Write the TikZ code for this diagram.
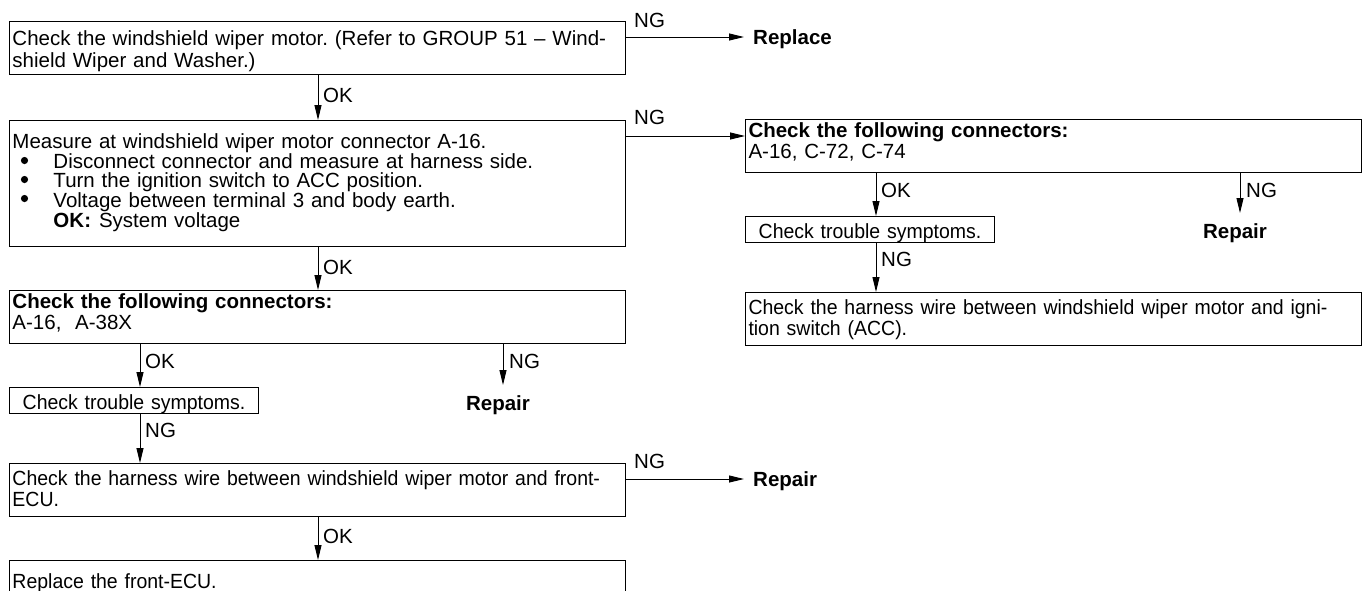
\documentclass[tikz,border=0pt]{standalone}
\usepackage{fontspec}
\setmainfont{Liberation Sans}
\newfontfamily\nfont{Liberation Sans}[FakeStretch=0.95]
\usetikzlibrary{arrows.meta}
\frenchspacing
\newcommand\bskip[1]{\fontsize{20.5}{#1}\selectfont}
\newcommand\tstr[1]{\rule{0pt}{#1pt}}
\newcommand\bstr[1]{\rule[-#1pt]{0pt}{#1pt}}
\tikzset{
  box/.style={draw, line width=1pt, anchor=north west, inner xsep=3pt, inner ysep=0pt, align=left},
  arr/.style={line width=0.9pt, -{Triangle[length=15pt,width=7pt]}},
  lbl/.style={anchor=west, inner sep=0pt, font=\bskip{22}},
  res/.style={inner sep=0pt, font=\bskip{22}\bfseries},
}
\begin{document}
\begin{tikzpicture}[x=1pt, y=-1pt]
\useasboundingbox (0,0) rectangle (1367,590);
\clip (0,0) rectangle (1367,590);
\fill[white] (0,0) rectangle (1367,590);

% x positions of vertical connectors
\coordinate (xa) at (318,0);
\coordinate (xl) at (140,0);
\coordinate (xr) at (876,0);

% left column
\node[box, text width=610pt, font=\bskip{22}] (A) at (9,21)
 {\tstr{24}\makebox[603pt][s]{Check the windshield wiper motor. (Refer to GROUP 51 – Wind-}\\shield Wiper and Washer.)\bstr{7}};
\node[box, text width=610pt, font=\bskip{19}] (B) at (9,120)
 {\tstr{27.5}Measure at windshield wiper motor connector A-16.\\
  \hspace*{41pt}Disconnect connector and measure at harness side.\\
  \hspace*{41pt}Turn the ignition switch to ACC position.\\
  \hspace*{41pt}Voltage between terminal 3 and body earth.\\
  \hspace*{41pt}\textbf{OK:}\hspace{8pt}System voltage\bstr{19.5}};
\foreach \yy in {160.5,179.5,198.5} \fill (24.5,\yy) circle (3.6pt);
\node[box, text width=610pt, font=\bskip{21}] (C) at (9,290)
 {\tstr{18}\makebox[338pt][s]{\textbf{Check the following connectors:}}\\A-16,\ \ A-38X\bstr{14}};
\node[box, text width=243pt, align=center, font=\nfont\bskip{22}] (D) at (9,387)
 {\tstr{21.5}Check trouble symptoms.\bstr{3.5}};
\node[box, text width=610pt, font=\nfont\bskip{21}] (E) at (9,463)
 {\tstr{22}Check the harness wire between windshield wiper motor and front-\\ECU.\bstr{10}};
\node[box, text width=610pt, font=\nfont\bskip{22}] (F) at (9,560)
 {\tstr{27.5}Replace the front-ECU.\bstr{20}};

% right column
\node[box, text width=610pt, font=\bskip{21}] (G) at (745,119)
 {\tstr{18}\makebox[338pt][s]{\textbf{Check the following connectors:}}\\A-16, C-72, C-74\bstr{14}};
\node[box, text width=243pt, align=center, font=\nfont\bskip{22}] (H) at (745,216)
 {\tstr{21.5}Check trouble symptoms.\bstr{3.5}};
\node[box, text width=610pt, font=\nfont\bskip{21}] (I) at (745,292)
 {\tstr{22}Check the harness wire between windshield wiper motor and igni-\\tion switch (ACC).\bstr{10}};

% result nodes
\node[res, anchor=base west] (Rpl) at (753,44.5) {Replace};
\node[res, anchor=base] (R1) at (498,410) {Repair};
\node[res, anchor=base] (R2) at (1235,238) {Repair};
\node[res, anchor=base west] (R3) at (753,486.5) {Repair};
\coordinate (t1) at (503,385);
\coordinate (t2) at (1240,213);

% vertical connectors
\draw[arr] (A.south -| xa) -- (B.north -| xa);
\draw[arr] (B.south -| xa) -- (C.north -| xa);
\draw[arr] (C.south -| xl) -- (D.north -| xl);
\draw[arr] (C.south -| t1) -- (t1);
\draw[arr] (D.south -| xl) -- (E.north -| xl);
\draw[arr] (E.south -| xa) -- (F.north -| xa);
\draw[arr] (G.south -| xr) -- (H.north -| xr);
\draw[arr] (G.south -| t2) -- (t2);
\draw[arr] (H.south -| xr) -- (I.north -| xr);

% horizontal connectors
\draw[arr] ([yshift=-16pt]A.north east) coordinate (a1) -- ([xshift=-9pt]Rpl.west |- a1);
\draw[arr] ([yshift=-16pt]B.north east) coordinate (b1) -- (G.west |- b1);
\draw[arr] ([yshift=-16pt]E.north east) coordinate (e1) -- ([xshift=-9pt]R3.west |- e1);

% labels
\node[lbl] (n1) at ([xshift=8pt,yshift=17pt]a1) {NG};
\node[lbl] (n2) at ([xshift=8pt,yshift=19pt]b1) {NG};
\node[lbl] (n3) at ([xshift=8pt,yshift=18pt]e1) {NG};
\node[lbl] (o1) at ([xshift=5pt,yshift=-20pt]A.south -| xa) {OK};
\node[lbl] (o2) at ([xshift=5pt,yshift=-20pt]B.south -| xa) {OK};
\node[lbl] (o3) at ([xshift=5pt,yshift=-17pt]C.south -| xl) {OK};
\node[lbl] (g1) at ([xshift=6pt,yshift=-17pt]C.south -| t1) {NG};
\node[lbl] (g2) at ([xshift=5pt,yshift=-17pt]D.south -| xl) {NG};
\node[lbl] (o4) at ([xshift=5pt,yshift=-19pt]E.south -| xa) {OK};
\node[lbl] (o5) at ([xshift=5pt,yshift=-17pt]G.south -| xr) {OK};
\node[lbl] (g3) at ([xshift=6pt,yshift=-17pt]G.south -| t2) {NG};
\node[lbl] (g4) at ([xshift=5pt,yshift=-17pt]H.south -| xr) {NG};
\end{tikzpicture}
\end{document}
